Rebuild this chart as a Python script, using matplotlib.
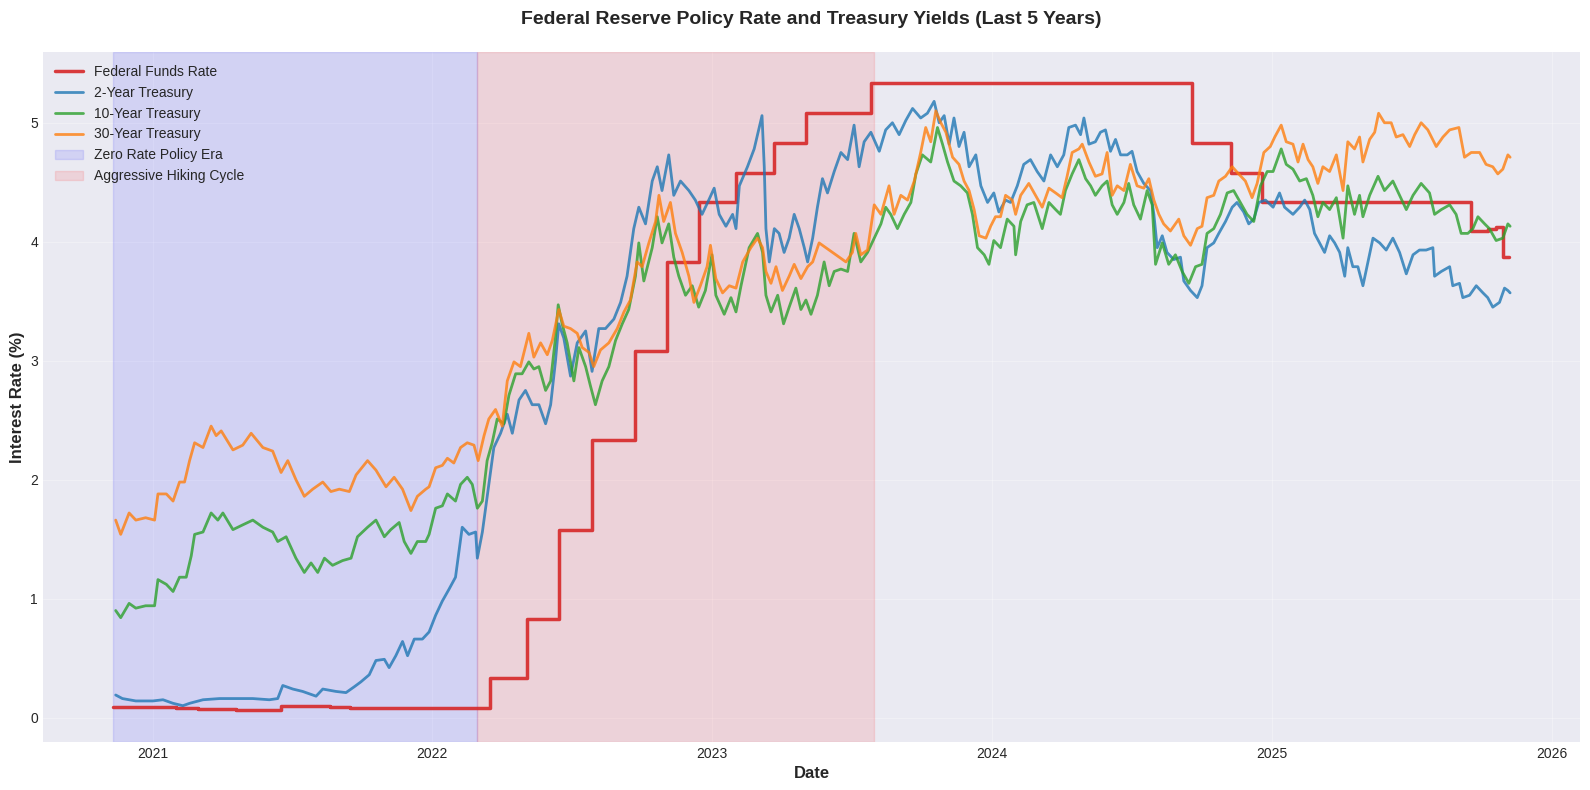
import numpy as np
import pandas as pd
import matplotlib
matplotlib.use("Agg")
import matplotlib.pyplot as plt

plt.style.use("seaborn-v0_8-darkgrid")
plt.rcParams["font.family"] = ["Liberation Sans", "DejaVu Sans"]

# ---- data (treasury dates in decimal years) ----
ff_dates = ["2020-11-10", "2021-02-01", "2021-03-01", "2021-04-20", "2021-06-17",
            "2021-08-20", "2021-09-15", "2022-03-17", "2022-05-05", "2022-06-16",
            "2022-07-28", "2022-09-22", "2022-11-03", "2022-12-15", "2023-02-02",
            "2023-03-23", "2023-05-04", "2023-07-27", "2024-09-19", "2024-11-08",
            "2024-12-19", "2025-09-18", "2025-10-10", "2025-10-20", "2025-10-30",
            "2025-11-06"]
ff_vals = [0.09, 0.08, 0.07, 0.06, 0.10, 0.09, 0.08, 0.33, 0.83, 1.58, 2.33, 3.08,
           3.83, 4.33, 4.58, 4.83, 5.08, 5.33, 4.83, 4.58, 4.33, 4.09, 4.11, 4.12,
           3.87, 3.87]

t2_t = [2020.870, 2020.894, 2020.942, 2021.001, 2021.037, 2021.073, 2021.108, 2021.132,
        2021.180, 2021.239, 2021.298, 2021.358, 2021.417, 2021.447, 2021.465, 2021.501,
        2021.536, 2021.584, 2021.608, 2021.655, 2021.691, 2021.721, 2021.744, 2021.774,
        2021.798, 2021.828, 2021.845, 2021.869, 2021.893, 2021.911, 2021.935, 2021.964,
        2021.988, 2022.012, 2022.036, 2022.060, 2022.083, 2022.107, 2022.131, 2022.155,
        2022.161, 2022.179, 2022.202, 2022.220, 2022.244, 2022.268, 2022.286, 2022.310,
        2022.333, 2022.357, 2022.381, 2022.405, 2022.423, 2022.440, 2022.452, 2022.470,
        2022.494, 2022.518, 2022.548, 2022.571, 2022.595, 2022.619, 2022.649, 2022.673,
        2022.696, 2022.720, 2022.738, 2022.762, 2022.786, 2022.804, 2022.821, 2022.845,
        2022.863, 2022.887, 2022.917, 2022.940, 2022.964, 2022.988, 2023.008, 2023.026,
        2023.050, 2023.074, 2023.086, 2023.098, 2023.127, 2023.151, 2023.163, 2023.179,
        2023.187, 2023.193, 2023.205, 2023.223, 2023.240, 2023.258, 2023.276, 2023.294,
        2023.312, 2023.330, 2023.342, 2023.360, 2023.377, 2023.395, 2023.413, 2023.437,
        2023.461, 2023.485, 2023.508, 2023.526, 2023.544, 2023.568, 2023.598, 2023.621,
        2023.645, 2023.669, 2023.693, 2023.717, 2023.746, 2023.770, 2023.794, 2023.812,
        2023.830, 2023.848, 2023.865, 2023.883, 2023.901, 2023.919, 2023.943, 2023.961,
        2023.985, 2024.008, 2024.026, 2024.050, 2024.068, 2024.092, 2024.115, 2024.139,
        2024.163, 2024.187, 2024.211, 2024.235, 2024.258, 2024.276, 2024.300, 2024.318,
        2024.330, 2024.348, 2024.371, 2024.389, 2024.407, 2024.425, 2024.443, 2024.461,
        2024.485, 2024.502, 2024.520, 2024.544, 2024.568, 2024.580, 2024.592, 2024.610,
        2024.627, 2024.651, 2024.675, 2024.687, 2024.711, 2024.735, 2024.752, 2024.770,
        2024.794, 2024.812, 2024.836, 2024.860, 2024.877, 2024.901, 2024.919, 2024.937,
        2024.955, 2024.979, 2025.004, 2025.027, 2025.045, 2025.075, 2025.099, 2025.117,
        2025.135, 2025.152, 2025.170, 2025.188, 2025.206, 2025.224, 2025.242, 2025.260,
        2025.271, 2025.289, 2025.307, 2025.325, 2025.343, 2025.361, 2025.385, 2025.408,
        2025.432, 2025.456, 2025.480, 2025.504, 2025.527, 2025.551, 2025.575, 2025.581,
        2025.605, 2025.635, 2025.646, 2025.670, 2025.682, 2025.706, 2025.730, 2025.754,
        2025.771, 2025.789, 2025.813, 2025.831, 2025.843, 2025.851]
t2_v = [0.19, 0.16, 0.14, 0.14, 0.15, 0.12, 0.10, 0.12, 0.15, 0.16, 0.16, 0.16, 0.15,
        0.16, 0.27, 0.24, 0.22, 0.18, 0.24, 0.22, 0.21, 0.26, 0.30, 0.36, 0.48, 0.49,
        0.42, 0.52, 0.64, 0.52, 0.66, 0.66, 0.72, 0.86, 0.98, 1.08, 1.18, 1.60, 1.54,
        1.56, 1.34, 1.56, 1.96, 2.27, 2.39, 2.55, 2.39, 2.67, 2.75, 2.63, 2.63, 2.47,
        2.63, 2.99, 3.31, 3.19, 2.87, 3.15, 3.25, 2.91, 3.27, 3.27, 3.35, 3.49, 3.71,
        4.11, 4.29, 4.15, 4.51, 4.63, 4.43, 4.73, 4.39, 4.51, 4.43, 4.35, 4.23, 4.35,
        4.45, 4.23, 4.13, 4.23, 4.11, 4.47, 4.63, 4.78, 4.90, 5.06, 4.63, 4.11, 3.83,
        4.11, 4.07, 3.91, 4.03, 4.23, 4.11, 3.95, 3.83, 4.03, 4.29, 4.53, 4.41, 4.59,
        4.75, 4.69, 4.98, 4.63, 4.84, 4.92, 4.76, 4.94, 5.00, 4.90, 5.02, 5.12, 5.04,
        5.08, 5.18, 5.00, 5.06, 4.82, 5.04, 4.80, 4.92, 4.63, 4.73, 4.47, 4.33, 4.41,
        4.25, 4.35, 4.33, 4.47, 4.65, 4.69, 4.59, 4.51, 4.73, 4.63, 4.73, 4.96, 4.98,
        4.90, 5.04, 4.82, 4.84, 4.92, 4.94, 4.76, 4.86, 4.73, 4.73, 4.76, 4.59, 4.49,
        4.43, 4.23, 3.95, 4.05, 3.91, 3.85, 3.87, 3.67, 3.59, 3.53, 3.63, 3.95, 3.99,
        4.07, 4.17, 4.29, 4.33, 4.25, 4.15, 4.19, 4.33, 4.35, 4.29, 4.41, 4.29, 4.23,
        4.29, 4.35, 4.27, 4.07, 3.99, 3.91, 4.05, 3.99, 3.91, 3.71, 3.95, 3.79, 3.79,
        3.63, 3.83, 4.03, 3.99, 3.93, 4.03, 3.91, 3.73, 3.89, 3.93, 3.93, 3.95, 3.71,
        3.75, 3.79, 3.63, 3.65, 3.53, 3.55, 3.63, 3.57, 3.53, 3.45, 3.49, 3.61, 3.59,
        3.57]

t10_t = [2020.870, 2020.888, 2020.918, 2020.942, 2020.977, 2021.007, 2021.019, 2021.049,
         2021.073, 2021.096, 2021.120, 2021.138, 2021.150, 2021.180, 2021.209, 2021.233,
         2021.251, 2021.287, 2021.322, 2021.358, 2021.394, 2021.429, 2021.447, 2021.477,
         2021.512, 2021.542, 2021.566, 2021.590, 2021.614, 2021.643, 2021.679, 2021.709,
         2021.732, 2021.768, 2021.798, 2021.828, 2021.851, 2021.881, 2021.899, 2021.923,
         2021.946, 2021.976, 2021.988, 2022.012, 2022.036, 2022.054, 2022.083, 2022.101,
         2022.125, 2022.143, 2022.161, 2022.179, 2022.196, 2022.214, 2022.232, 2022.256,
         2022.274, 2022.298, 2022.321, 2022.345, 2022.363, 2022.381, 2022.405, 2022.423,
         2022.440, 2022.450, 2022.464, 2022.482, 2022.506, 2022.524, 2022.548, 2022.565,
         2022.583, 2022.607, 2022.631, 2022.655, 2022.679, 2022.702, 2022.726, 2022.738,
         2022.756, 2022.786, 2022.804, 2022.821, 2022.845, 2022.863, 2022.881, 2022.905,
         2022.929, 2022.952, 2022.976, 2023.000, 2023.014, 2023.044, 2023.068, 2023.086,
         2023.104, 2023.133, 2023.163, 2023.181, 2023.193, 2023.211, 2023.235, 2023.256,
         2023.276, 2023.300, 2023.318, 2023.336, 2023.354, 2023.377, 2023.401, 2023.419,
         2023.437, 2023.461, 2023.485, 2023.508, 2023.532, 2023.556, 2023.580, 2023.604,
         2023.621, 2023.639, 2023.663, 2023.687, 2023.711, 2023.729, 2023.752, 2023.782,
         2023.806, 2023.824, 2023.842, 2023.865, 2023.889, 2023.913, 2023.931, 2023.949,
         2023.973, 2023.990, 2024.008, 2024.032, 2024.056, 2024.080, 2024.086, 2024.104,
         2024.127, 2024.151, 2024.181, 2024.205, 2024.229, 2024.246, 2024.264, 2024.288,
         2024.312, 2024.336, 2024.354, 2024.371, 2024.395, 2024.413, 2024.431, 2024.449,
         2024.473, 2024.490, 2024.508, 2024.532, 2024.556, 2024.574, 2024.586, 2024.610,
         2024.633, 2024.657, 2024.681, 2024.705, 2024.729, 2024.752, 2024.770, 2024.794,
         2024.818, 2024.842, 2024.865, 2024.889, 2024.913, 2024.937, 2024.961, 2024.985,
         2025.004, 2025.033, 2025.051, 2025.075, 2025.099, 2025.123, 2025.146, 2025.164,
         2025.182, 2025.206, 2025.230, 2025.254, 2025.271, 2025.295, 2025.313, 2025.325,
         2025.349, 2025.379, 2025.402, 2025.432, 2025.456, 2025.480, 2025.504, 2025.533,
         2025.563, 2025.581, 2025.605, 2025.635, 2025.658, 2025.676, 2025.700, 2025.718,
         2025.736, 2025.760, 2025.777, 2025.801, 2025.825, 2025.843, 2025.851]
t10_v = [0.90, 0.84, 0.96, 0.92, 0.94, 0.94, 1.16, 1.12, 1.06, 1.18, 1.18, 1.36, 1.54,
         1.56, 1.72, 1.66, 1.72, 1.58, 1.62, 1.66, 1.60, 1.56, 1.48, 1.52, 1.34, 1.22,
         1.30, 1.22, 1.34, 1.28, 1.32, 1.34, 1.52, 1.60, 1.66, 1.52, 1.58, 1.64, 1.48,
         1.38, 1.48, 1.48, 1.54, 1.76, 1.78, 1.88, 1.82, 1.96, 2.02, 1.96, 1.76, 1.82,
         2.16, 2.31, 2.51, 2.47, 2.71, 2.89, 2.89, 2.99, 2.93, 2.95, 2.75, 2.83, 3.19,
         3.47, 3.31, 3.15, 2.83, 3.11, 2.95, 2.79, 2.63, 2.83, 2.95, 3.17, 3.31, 3.43,
         3.71, 3.99, 3.67, 3.95, 4.21, 3.99, 4.15, 3.87, 3.71, 3.55, 3.63, 3.45, 3.59,
         3.89, 3.55, 3.39, 3.53, 3.41, 3.63, 3.95, 4.07, 3.91, 3.55, 3.41, 3.55, 3.31,
         3.45, 3.61, 3.43, 3.51, 3.39, 3.55, 3.83, 3.63, 3.75, 3.77, 3.75, 4.07, 3.83,
         3.91, 4.03, 4.15, 4.29, 4.23, 4.11, 4.23, 4.33, 4.57, 4.73, 4.67, 4.96, 4.82,
         4.67, 4.51, 4.47, 4.41, 4.23, 3.95, 3.89, 3.81, 4.01, 3.95, 4.19, 4.13, 3.89,
         4.17, 4.31, 4.33, 4.11, 4.33, 4.27, 4.23, 4.43, 4.57, 4.69, 4.53, 4.47, 4.39,
         4.47, 4.51, 4.31, 4.23, 4.33, 4.49, 4.31, 4.19, 4.43, 4.31, 3.81, 3.99, 3.81,
         3.89, 3.75, 3.65, 3.79, 3.81, 4.07, 4.11, 4.23, 4.41, 4.43, 4.33, 4.23, 4.17,
         4.47, 4.59, 4.59, 4.78, 4.65, 4.61, 4.51, 4.53, 4.39, 4.21, 4.33, 4.27, 4.37,
         4.03, 4.47, 4.23, 4.39, 4.21, 4.39, 4.55, 4.43, 4.51, 4.39, 4.27, 4.39, 4.49,
         4.41, 4.23, 4.27, 4.31, 4.23, 4.07, 4.07, 4.11, 4.21, 4.15, 4.11, 4.01, 4.03,
         4.15, 4.13]

t30_t = [2020.870, 2020.888, 2020.918, 2020.942, 2020.977, 2021.007, 2021.019, 2021.049,
         2021.073, 2021.096, 2021.114, 2021.132, 2021.150, 2021.180, 2021.209, 2021.227,
         2021.245, 2021.287, 2021.322, 2021.352, 2021.394, 2021.429, 2021.459, 2021.483,
         2021.512, 2021.542, 2021.572, 2021.608, 2021.637, 2021.667, 2021.703, 2021.727,
         2021.768, 2021.798, 2021.834, 2021.863, 2021.893, 2021.923, 2021.946, 2021.976,
         2021.988, 2022.012, 2022.036, 2022.054, 2022.077, 2022.101, 2022.125, 2022.149,
         2022.164, 2022.185, 2022.202, 2022.226, 2022.250, 2022.268, 2022.292, 2022.315,
         2022.345, 2022.363, 2022.387, 2022.411, 2022.429, 2022.452, 2022.470, 2022.494,
         2022.518, 2022.536, 2022.560, 2022.577, 2022.601, 2022.631, 2022.661, 2022.685,
         2022.708, 2022.732, 2022.750, 2022.774, 2022.798, 2022.810, 2022.827, 2022.851,
         2022.869, 2022.893, 2022.917, 2022.935, 2022.958, 2022.982, 2022.994, 2023.014,
         2023.038, 2023.062, 2023.086, 2023.110, 2023.139, 2023.163, 2023.181, 2023.193,
         2023.211, 2023.229, 2023.252, 2023.276, 2023.294, 2023.318, 2023.342, 2023.360,
         2023.383, 2023.407, 2023.431, 2023.455, 2023.479, 2023.502, 2023.514, 2023.532,
         2023.556, 2023.580, 2023.604, 2023.633, 2023.651, 2023.675, 2023.699, 2023.723,
         2023.746, 2023.764, 2023.782, 2023.800, 2023.818, 2023.836, 2023.860, 2023.883,
         2023.901, 2023.919, 2023.937, 2023.955, 2023.979, 2023.996, 2024.014, 2024.032,
         2024.050, 2024.074, 2024.086, 2024.104, 2024.133, 2024.157, 2024.181, 2024.205,
         2024.229, 2024.252, 2024.270, 2024.288, 2024.312, 2024.324, 2024.348, 2024.371,
         2024.395, 2024.413, 2024.431, 2024.449, 2024.473, 2024.496, 2024.520, 2024.544,
         2024.562, 2024.580, 2024.598, 2024.615, 2024.639, 2024.669, 2024.687, 2024.711,
         2024.735, 2024.752, 2024.770, 2024.794, 2024.812, 2024.836, 2024.860, 2024.883,
         2024.907, 2024.931, 2024.949, 2024.973, 2024.996, 2025.010, 2025.033, 2025.051,
         2025.075, 2025.093, 2025.111, 2025.129, 2025.146, 2025.164, 2025.182, 2025.206,
         2025.230, 2025.254, 2025.271, 2025.295, 2025.313, 2025.325, 2025.349, 2025.367,
         2025.381, 2025.402, 2025.426, 2025.444, 2025.468, 2025.492, 2025.510, 2025.533,
         2025.557, 2025.587, 2025.611, 2025.635, 2025.668, 2025.688, 2025.712, 2025.742,
         2025.765, 2025.789, 2025.807, 2025.825, 2025.843, 2025.851]
t30_v = [1.66, 1.54, 1.72, 1.66, 1.68, 1.66, 1.88, 1.88, 1.82, 1.98, 1.98, 2.16, 2.31,
         2.27, 2.45, 2.37, 2.41, 2.25, 2.29, 2.39, 2.27, 2.24, 2.06, 2.16, 2.00, 1.86,
         1.92, 1.98, 1.90, 1.92, 1.90, 2.04, 2.16, 2.08, 1.94, 2.02, 1.92, 1.74, 1.86,
         1.92, 1.94, 2.10, 2.12, 2.18, 2.14, 2.27, 2.31, 2.29, 2.16, 2.37, 2.51, 2.59,
         2.45, 2.83, 2.99, 2.95, 3.23, 3.03, 3.15, 3.05, 3.17, 3.43, 3.29, 3.27, 3.23,
         3.11, 3.07, 2.95, 3.09, 3.15, 3.27, 3.41, 3.51, 3.83, 3.79, 3.99, 4.17, 4.39,
         4.17, 4.33, 4.07, 3.91, 3.71, 3.49, 3.63, 3.79, 3.97, 3.69, 3.57, 3.63, 3.61,
         3.83, 3.95, 4.03, 3.95, 3.75, 3.65, 3.79, 3.59, 3.71, 3.81, 3.69, 3.79, 3.83,
         3.99, 3.95, 3.91, 3.87, 3.83, 3.91, 4.07, 3.89, 3.93, 4.31, 4.23, 4.47, 4.23,
         4.39, 4.35, 4.51, 4.75, 4.96, 4.84, 5.10, 5.00, 4.92, 4.71, 4.65, 4.51, 4.43,
         4.27, 4.05, 4.03, 4.13, 4.21, 4.21, 4.39, 4.35, 4.23, 4.39, 4.49, 4.39, 4.29,
         4.45, 4.41, 4.37, 4.55, 4.75, 4.78, 4.82, 4.67, 4.55, 4.57, 4.75, 4.39, 4.47,
         4.43, 4.65, 4.47, 4.45, 4.53, 4.35, 4.23, 4.15, 4.09, 4.19, 4.05, 3.97, 4.11,
         4.13, 4.37, 4.39, 4.51, 4.55, 4.63, 4.57, 4.51, 4.37, 4.49, 4.75, 4.80, 4.88,
         4.98, 4.84, 4.82, 4.67, 4.82, 4.69, 4.63, 4.49, 4.63, 4.59, 4.73, 4.43, 4.84,
         4.78, 4.88, 4.67, 4.86, 4.92, 5.08, 5.00, 5.00, 4.88, 4.90, 4.80, 4.90, 5.00,
         4.94, 4.80, 4.88, 4.94, 4.96, 4.71, 4.75, 4.75, 4.65, 4.63, 4.57, 4.61, 4.73,
         4.71]

zero_era_end = "2022-03-01"
hiking_end = "2023-07-31"


def to_dates(years):
    out = []
    for y in years:
        base = int(np.floor(y))
        out.append(pd.Timestamp(base, 1, 1) + pd.Timedelta(days=(y - base) * 365.25))
    return out


ff_x = pd.to_datetime(ff_dates)

fig, ax = plt.subplots(figsize=(15.9, 7.9), dpi=100)
fig.subplots_adjust(left=0.027, right=0.9937, top=0.934, bottom=0.061)

ax.plot(ff_x, ff_vals, drawstyle="steps-post", color="#d62728", lw=2.5, alpha=0.9,
        label="Federal Funds Rate")
ax.plot(to_dates(t2_t), t2_v, color="#1f77b4", lw=2, alpha=0.8, label="2-Year Treasury")
ax.plot(to_dates(t10_t), t10_v, color="#2ca02c", lw=2, alpha=0.8, label="10-Year Treasury")
ax.plot(to_dates(t30_t), t30_v, color="#ff7f0e", lw=2, alpha=0.8, label="30-Year Treasury")

ax.axvspan(ff_x[0], pd.Timestamp(zero_era_end), color="blue", alpha=0.1,
           label="Zero Rate Policy Era")
ax.axvspan(pd.Timestamp(zero_era_end), pd.Timestamp(hiking_end), color="red", alpha=0.1,
           label="Aggressive Hiking Cycle")

ax.set_title("Federal Reserve Policy Rate and Treasury Yields (Last 5 Years)",
             fontsize=14, fontweight="bold", pad=20)
ax.set_xlabel("Date", fontsize=12, fontweight="bold")
ax.set_ylabel("Interest Rate (%)", fontsize=12, fontweight="bold")
ax.legend(loc="upper left", fontsize=10)
ax.grid(True, alpha=0.3)

fig.savefig("out.png", dpi=100)
